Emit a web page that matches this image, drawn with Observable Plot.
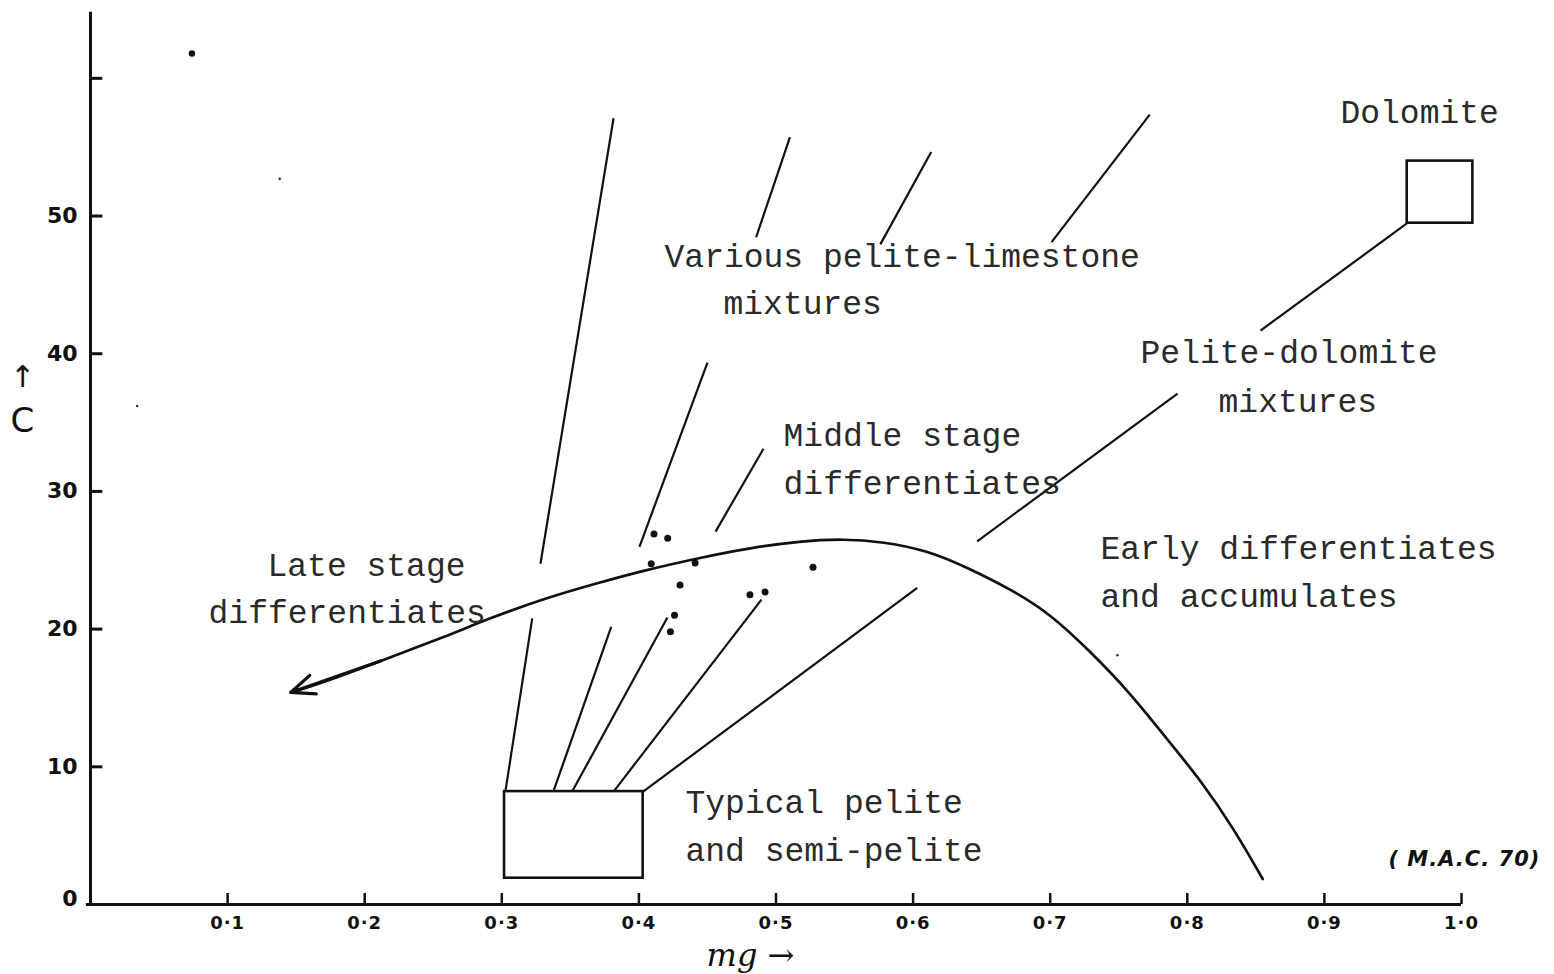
<!DOCTYPE html>
<html>
<head>
<meta charset="utf-8">
<script src="https://cdn.jsdelivr.net/npm/d3@7"></script>
<script src="https://cdn.jsdelivr.net/npm/@observablehq/plot@0.6"></script>
<style>
  html, body { margin: 0; padding: 0; background: #fff; }
  #chart svg { display: block; }
  .x-tick-label text { letter-spacing: 1px; }
  .signature text { letter-spacing: 1px; }
</style>
</head>
<body>
<div id="chart"></div>
<script>
// Differentiation trend in the mg – C diagram

// Main trend curve (late stage → early differentiates)
const curveMg = [0.146, 0.168, 0.212, 0.260, 0.290, 0.333, 0.372, 0.401, 0.445, 0.481, 0.518, 0.549, 0.578, 0.611, 0.640, 0.673, 0.700, 0.729, 0.759, 0.786, 0.810, 0.834, 0.855];
const curveC  = [15.4, 16.05, 17.7, 19.5, 20.75, 22.3, 23.4, 24.2, 25.2, 25.9, 26.4, 26.55, 26.35, 25.7, 24.45, 22.8, 21.1, 18.4, 15.3, 11.9, 9.0, 5.5, 1.85];

// Analysed samples
const sampleMg = [0.411, 0.421, 0.409, 0.441, 0.430, 0.481, 0.492, 0.527, 0.426, 0.423];
const sampleC  = [26.9, 26.6, 24.75, 24.8, 23.2, 22.5, 22.7, 24.5, 21.0, 19.8];

// Stray ink spots on the sheet
const inkMg = [0.074];
const inkC  = [61.8];
const speckMg = [0.138, 0.034, 0.749];
const speckC  = [52.7, 36.2, 18.1];

// Field boxes: typical pelite, dolomite
const boxMg1 = [0.302, 0.9604];
const boxMg2 = [0.4031, 1.0083];
const boxC1  = [1.91, 49.48];
const boxC2  = [8.2, 53.99];

// Leader lines joining the fields to their mixtures
const leadMg1 = [0.3282, 0.4855, 0.5761, 0.7010, 0.4004, 0.4559, 0.9604, 0.6467, 0.3026, 0.3376, 0.3513, 0.3815, 0.4031];
const leadC1  = [24.75, 48.46, 47.94, 48.11, 25.98, 27.08, 49.48, 26.37, 8.2, 8.2, 8.2, 8.2, 8.2];
const leadMg2 = [0.3815, 0.5102, 0.6132, 0.7726, 0.4500, 0.4909, 0.8534, 0.7929, 0.3222, 0.3798, 0.4208, 0.4894, 0.6030];
const leadC2  = [57.1, 55.73, 54.65, 57.37, 39.36, 33.1, 41.68, 37.11, 20.78, 20.17, 20.84, 22.14, 22.99];

// Typed annotations
const labelText = ["Dolomite", "Various pelite-limestone", "mixtures", "Pelite-dolomite", "mixtures",
  "Middle stage", "differentiates", "Early differentiates", "and accumulates",
  "Late stage", "differentiates", "Typical pelite", "and semi-pelite"];
const labelMg = [0.9117, 0.4187, 0.4617, 0.7659, 0.8228, 0.5055, 0.5055, 0.7367, 0.7367, 0.1291, 0.0861, 0.434, 0.434];
const labelC  = [57.5, 47.05, 43.65, 40.1, 36.5, 34.05, 30.55, 25.85, 22.35, 24.6, 21.2, 7.4, 3.95];

// Axis ticks
const xTicks = [0.1, 0.2, 0.3, 0.4, 0.5, 0.6, 0.7, 0.8, 0.9, 1.0];
const xTickLabels = ["0·1", "0·2", "0·3", "0·4", "0·5", "0·6", "0·7", "0·8", "0·9", "1·0"];
const yTicks = [0, 10, 20, 30, 40, 50, 60];
const yTickLabels = ["0", "10", "20", "30", "40", "50", ""];

const ink = "#111";
const typeInk = "#2a2a2a";
const typeFont = "'Liberation Mono', 'DejaVu Sans Mono', monospace";
const handFont = "'DejaVu Sans', sans-serif";

const curve = curveMg.map((mg, i) => ({mg, c: curveC[i]}));
const samples = sampleMg.map((mg, i) => ({mg, c: sampleC[i]}));
const inkSpots = inkMg.map((mg, i) => ({mg, c: inkC[i]}));
const specks = speckMg.map((mg, i) => ({mg, c: speckC[i]}));
const boxes = boxMg1.map((_, i) => ({x1: boxMg1[i], x2: boxMg2[i], y1: boxC1[i], y2: boxC2[i]}));
const leaders = leadMg1.map((_, i) => ({x1: leadMg1[i], y1: leadC1[i], x2: leadMg2[i], y2: leadC2[i]}));
const labels = labelText.map((t, i) => ({t, mg: labelMg[i], c: labelC[i]}));
// arrowhead at the late-stage end of the curve
const arrowHead = [{x1: curveMg[2], y1: curveC[2], x2: curveMg[0], y2: curveC[0]}];
const xTickData = xTicks.map((v, i) => ({v, label: xTickLabels[i]}));
const yTickData = yTicks.map((v, i) => ({v, label: yTickLabels[i]}));

const yLabelStyle = {x: 0, y: "v", text: "label", textAnchor: "end", dx: -13, fontSize: 22, fontFamily: handFont, fontWeight: 600, fill: ink};

const chart = Plot.plot({
  width: 1554,
  height: 974,
  marginLeft: 90,
  marginRight: 93,
  marginTop: 9,
  marginBottom: 70,
  x: {domain: [0, 1], axis: null},
  y: {domain: [0, 65], axis: null},
  style: {background: "#fff", color: ink, overflow: "visible"},
  marks: [
    // axes drawn as plain ruled lines
    Plot.ruleY([0], {x1: -0.003, x2: 1.0, stroke: ink, strokeWidth: 3}),
    Plot.ruleX([0], {y1: 0, y2: 64.8, stroke: ink, strokeWidth: 3}),
    // inward tick marks
    Plot.ruleX(xTickData, {x: "v", y1: 0, y2: 0.8, stroke: ink, strokeWidth: 2.5}),
    Plot.ruleY(yTickData.filter(d => d.v > 0), {y: "v", x1: 0, x2: 0.009, stroke: ink, strokeWidth: 3}),
    // tick labels
    Plot.text(xTickData, {x: "v", y: 0, text: "label", dy: 19, fontSize: 18, fontFamily: handFont, fontWeight: 600, fill: ink, className: "x-tick-label"}),
    Plot.text(yTickData.filter(d => d.v > 0), yLabelStyle),
    Plot.text(yTickData.filter(d => d.v === 0), {...yLabelStyle, dy: -6}),
    // axis titles
    Plot.text([{mg: 0.4814, c: -3.75}], {x: "mg", y: "c", text: () => "mg →", fontSize: 32, fontStyle: "italic", fontFamily: "'DejaVu Serif', serif", fill: ink}),
    Plot.text([{mg: -0.0496, c: 38.3}], {x: "mg", y: "c", text: () => "↑", fontSize: 30, fontFamily: handFont, fill: ink}),
    Plot.text([{mg: -0.0496, c: 35.1}], {x: "mg", y: "c", text: () => "C", fontSize: 34, fontFamily: handFont, fill: ink}),
    // field boxes and leader lines
    Plot.rect(boxes, {x1: "x1", x2: "x2", y1: "y1", y2: "y2", fill: "none", stroke: ink, strokeWidth: 2.6}),
    Plot.link(leaders, {x1: "x1", y1: "y1", x2: "x2", y2: "y2", stroke: ink, strokeWidth: 2.2}),
    // trend curve with its arrowhead
    Plot.line(curve, {x: "mg", y: "c", curve: "basis", stroke: ink, strokeWidth: 2.7}),
    Plot.arrow(arrowHead, {x1: "x1", y1: "y1", x2: "x2", y2: "y2", stroke: ink, strokeWidth: 3.2, headLength: 12, headAngle: 45}),
    // samples and stray marks
    Plot.dot(samples, {x: "mg", y: "c", r: 3.5, fill: ink, stroke: "none"}),
    Plot.dot(inkSpots, {x: "mg", y: "c", r: 3.2, fill: ink, stroke: "none"}),
    Plot.dot(specks, {x: "mg", y: "c", r: 1.3, fill: "#333", stroke: "none"}),
    // typed annotations
    Plot.text(labels, {x: "mg", y: "c", text: "t", textAnchor: "start", fontFamily: typeFont, fontSize: 33, fill: typeInk}),
    Plot.text([{mg: 0.9467, c: 3.3}], {x: "mg", y: "c", text: () => "( M.A.C. 70)", textAnchor: "start", fontSize: 21, fontStyle: "italic", fontWeight: 600, fontFamily: handFont, fill: ink, className: "signature"})
  ]
});

document.getElementById("chart").appendChild(chart);
</script>
</body>
</html>
